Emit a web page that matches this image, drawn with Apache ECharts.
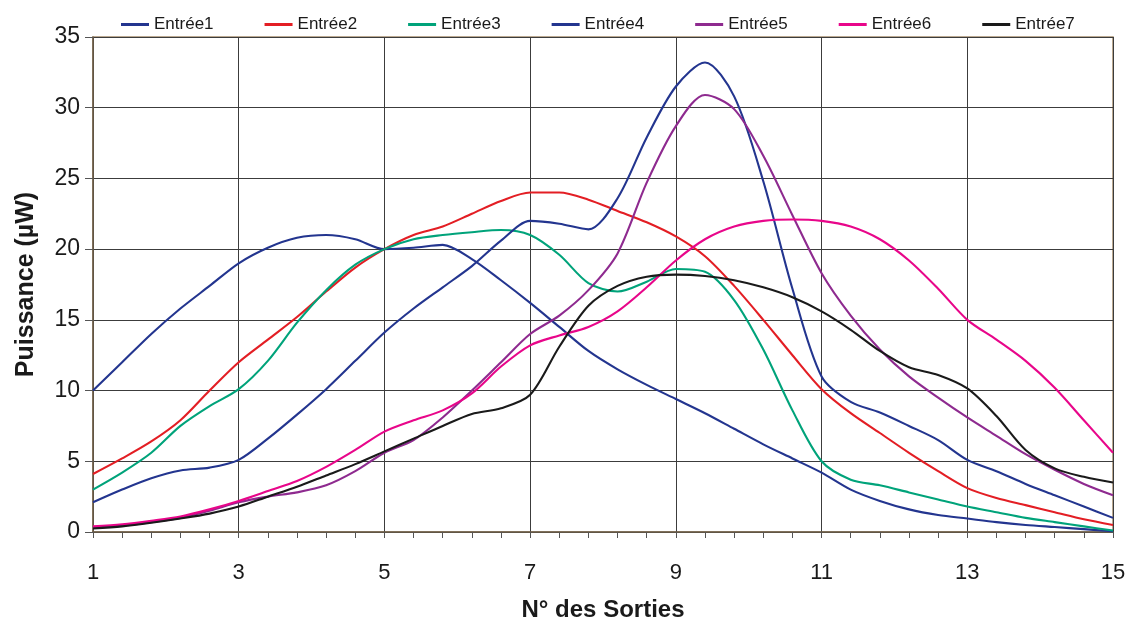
<!DOCTYPE html>
<html><head><meta charset="utf-8">
<script src="https://cdn.jsdelivr.net/npm/echarts@6.0.0/dist/echarts.min.js"></script>
<style>html,body{margin:0;padding:0;background:#fff}#c{width:1132px;height:626px}</style>
</head><body><div id="c"></div><script>
const xCats = ['1','1.4','1.8','2.2','2.6','3','3.4','3.8','4.2','4.6','5','5.4','5.8','6.2','6.6','7','7.4','7.8','8.2','8.6','9','9.4','9.8','10.2','10.6','11','11.4','11.8','12.2','12.6','13','13.4','13.8','14.2','14.6','15'];
const seriesNames = ['Entrée1','Entrée2','Entrée3','Entrée4','Entrée5','Entrée6','Entrée7'];
const entree1 = [10,12.0,14.0,15.8,17.4,19.0,20.1,20.8,21.0,20.7,20.0,20.1,20.3,19.3,17.8,16.2,14.5,12.8,11.5,10.4,9.4,8.4,7.3,6.2,5.2,4.2,3.0,2.2,1.6,1.2,0.95,0.7,0.5,0.35,0.2,0.05];
const entree2 = [4.1,5.2,6.4,7.9,10.0,12.0,13.6,15.2,17.0,18.7,20.0,21.0,21.6,22.5,23.4,24.0,24.0,23.5,22.7,21.9,20.9,19.5,17.4,15.0,12.5,10.1,8.4,7.0,5.6,4.3,3.1,2.4,1.9,1.4,0.9,0.5];
const entree3 = [3.0,4.2,5.6,7.5,8.9,10.1,12.1,14.8,17.1,18.9,20.0,20.7,21.0,21.2,21.35,21.0,19.6,17.6,17.0,17.7,18.6,18.4,16.4,12.9,8.6,5.0,3.7,3.3,2.8,2.3,1.8,1.4,1.0,0.7,0.4,0.1];
const entree4 = [2.1,3.0,3.8,4.35,4.55,5.1,6.6,8.3,10.1,12.1,14.1,15.8,17.3,18.8,20.6,22.0,21.8,21.4,23.6,27.9,31.5,33.2,30.8,24.8,17.2,11.0,9.2,8.45,7.5,6.5,5.1,4.3,3.4,2.6,1.8,1.0];
const entree5 = [0.3,0.45,0.7,1.0,1.5,2.1,2.5,2.8,3.3,4.3,5.6,6.5,8.1,10.0,12.0,14.0,15.3,17.1,19.7,24.7,28.7,30.9,29.9,26.6,22.4,18.3,15.3,12.9,11.0,9.5,8.1,6.8,5.5,4.4,3.4,2.6];
const entree6 = [0.4,0.55,0.8,1.1,1.6,2.2,2.9,3.6,4.6,5.8,7.1,7.9,8.6,9.8,11.7,13.2,13.9,14.5,15.6,17.3,19.2,20.7,21.6,22.0,22.1,22.0,21.6,20.7,19.2,17.2,15.0,13.6,12.1,10.2,7.9,5.6];
const entree7 = [0.25,0.4,0.65,0.95,1.3,1.8,2.5,3.2,4.0,4.8,5.7,6.6,7.5,8.35,8.75,9.7,13.1,16.0,17.4,18.05,18.2,18.1,17.8,17.3,16.6,15.6,14.3,12.8,11.65,11.1,10.15,8.2,5.8,4.5,3.9,3.5];
const colors = ['#23358F','#E31E24','#00A37A','#23358F','#8E2A8F','#E8068A','#1A1A1A'];
const allData = [entree1,entree2,entree3,entree4,entree5,entree6,entree7];

const chart = echarts.init(document.getElementById('c'), null, {renderer:'canvas'});
const font = 'Liberation Sans, Arial, sans-serif';
chart.setOption({
  animation:false,
  backgroundColor:'#fff',
  textStyle:{fontFamily:font},
  legend:{
    top:11, left:116, icon:'rect', itemWidth:28, itemHeight:3, itemGap:51,
    textStyle:{fontSize:17, color:'#1a1a1a', fontFamily:font},
    data:seriesNames
  },
  grid:{left:93, right:19, top:37, bottom:94, show:true, borderColor:'#A58D6D', borderWidth:1.5, containLabel:false, outerBoundsMode:'none'},
  xAxis:{
    type:'category', data:xCats, boundaryGap:false,
    axisLine:{show:true, lineStyle:{color:'#6E5E48', width:1.5}},
    axisTick:{show:true, interval:0, length:6, lineStyle:{color:'#555'}},
    axisLabel:{interval:4, margin:30, fontSize:22, color:'#1a1a1a', fontFamily:font},
    splitLine:{show:true, interval:4, lineStyle:{color:'#3c3c3c', width:1}},
    name:'N° des Sorties', nameLocation:'middle', nameGap:66,
    nameTextStyle:{fontSize:24, fontWeight:'bold', color:'#1a1a1a', fontFamily:font}
  },
  yAxis:{
    type:'value', min:0, max:35, interval:5,
    axisLine:{show:true, lineStyle:{color:'#6E5E48', width:1.5}},
    axisTick:{show:true, length:8, lineStyle:{color:'#555'}},
    axisLabel:{margin:13, fontSize:23, color:'#1a1a1a', fontFamily:font},
    splitLine:{show:true, lineStyle:{color:'#3c3c3c', width:1}},
    name:'Puissance (µW)', nameLocation:'middle', nameGap:54,
    nameTextStyle:{fontSize:25, fontWeight:'bold', color:'#1a1a1a', fontFamily:font}
  },
  series: seriesNames.map((n,i)=>({
    name:n, type:'line', data:allData[i], symbol:'none', smooth:0.3,
    lineStyle:{width:2.1, color:colors[i]}, itemStyle:{color:colors[i]}
  }))
});
</script></body></html>
